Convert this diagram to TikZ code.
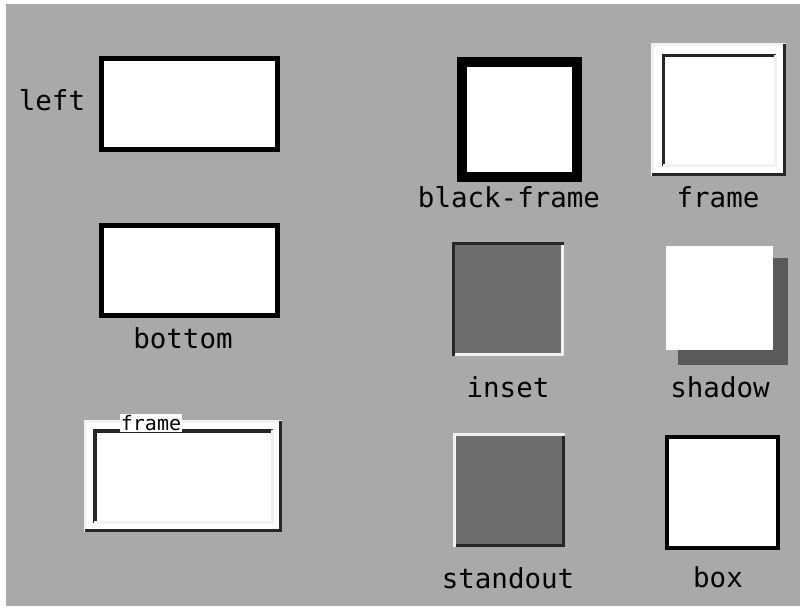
\documentclass[tikz,border=0pt]{standalone}
\usepackage{fontspec}
\setmonofont{DejaVu Sans Mono}
\definecolor{bgstip}{HTML}{A9A9A9}
\definecolor{darkstip}{HTML}{6E6E6E}
\definecolor{shadowc}{HTML}{5A5A5A}
\definecolor{lightedge}{HTML}{F2F2F2}
\tikzset{
  lbl/.style={font=\ttfamily\fontsize{27.5}{27.5}\selectfont, inner sep=0pt, text=black},
  smalllbl/.style={font=\ttfamily\fontsize{20}{20}\selectfont, inner sep=1pt, fill=white, text=black},
  plainbox/.style={draw=black, fill=white, line width=5pt},
  heavybox/.style={draw=black, fill=white, line width=10pt},
  thinbox/.style={draw=black, fill=white, line width=3.5pt},
  darkedge/.style={draw=black!85, line width=3pt},
  whiteedge/.style={draw=lightedge, line width=3pt},
}
\begin{document}
\begin{tikzpicture}[x=1pt,y=-1pt]
\useasboundingbox (0,0) rectangle (800,611);
\fill[white] (0,0) rectangle (800,611);
\fill[bgstip] (6,4) rectangle (800,606);

% left
\draw[plainbox] (101.5,58.5) rectangle (277.5,149.5);
\node[lbl] (left) at (52,100) {left};

% black-frame
\draw[heavybox] (462,62) rectangle (577,177);
\node[lbl] (blackframe) at (509,197) {black-frame};

% frame (top right), etched
\fill[white] (651,43) rectangle (786,176);
\draw[whiteedge] (652.5,174.5) -- (652.5,44.5) -- (786,44.5);
\draw[darkedge] (652,174.5) -- (784.5,174.5) -- (784.5,44);
\draw[darkedge] (663.5,166) -- (663.5,55.5) -- (776,55.5);
\draw[whiteedge] (663,165.5) -- (775.5,165.5) -- (775.5,55);
\node[lbl] (frameA) at (718,197) {frame};

% bottom
\draw[plainbox] (101.5,225.5) rectangle (277.5,315.5);
\node[lbl] (bottom) at (183,338) {bottom};

% inset
\fill[darkstip] (452,242) rectangle (564,356);
\draw[darkedge] (453.5,356) -- (453.5,243.5) -- (564,243.5);
\draw[whiteedge] (455,354.5) -- (562.5,354.5) -- (562.5,245);
\node[lbl] (inset) at (508,387) {inset};

% shadow
\fill[shadowc] (678,258) rectangle (788,365);
\fill[white] (666,246) rectangle (773,350);
\node[lbl] (shadow) at (720,387) {shadow};

% frame (bottom left), etched with title
\fill[white] (84,420) rectangle (282,532);
\draw[whiteedge] (85.5,530.5) -- (85.5,421.5) -- (282,421.5);
\draw[darkedge] (85,530.5) -- (280.5,530.5) -- (280.5,421);
\draw[darkedge, line width=4pt] (94.5,523) -- (94.5,430.5) -- (273,430.5);
\draw[whiteedge] (94,522.5) -- (272.5,522.5) -- (272.5,430);
\node[smalllbl] (frameB) at (151,423) {frame};

% standout
\fill[darkstip] (453,433) rectangle (565,547);
\draw[whiteedge] (454.5,547) -- (454.5,434.5) -- (565,434.5);
\draw[darkedge] (456,545.5) -- (563.5,545.5) -- (563.5,436);
\node[lbl] (standout) at (508,578) {standout};

% box
\draw[thinbox] (667,437) rectangle (778,548);
\node[lbl] (box) at (718,577) {box};
\end{tikzpicture}
\end{document}
